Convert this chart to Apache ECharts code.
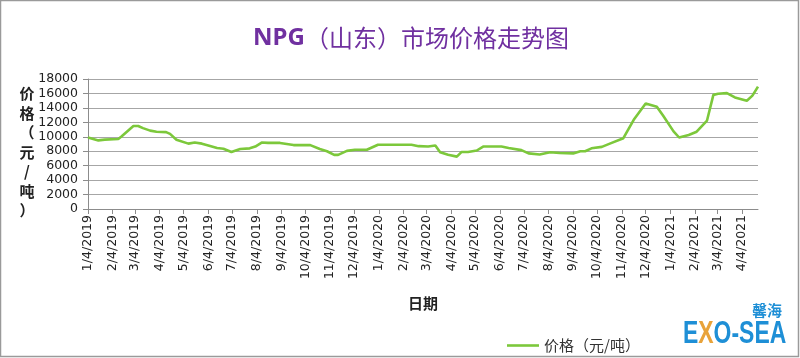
<!DOCTYPE html>
<html><head><meta charset="utf-8">
<script src="https://cdn.jsdelivr.net/npm/echarts@6/dist/echarts.min.js"></script>
<style>html,body{margin:0;padding:0;background:#fff}#c{width:800px;height:358px}</style>
</head><body><div id="c"></div>
<script>
const titleText = 'NPG（山东）市场价格走势图';
const seriesName = '价格（元/吨）';
const yAxisTitle = '价格（元/吨）';
const xAxisTitle = '日期';

const dates = [
 '2019-01-04','2019-01-17','2019-01-25','2019-02-11','2019-02-15','2019-03-02','2019-03-08','2019-03-14',
 '2019-03-23','2019-03-31','2019-04-12','2019-04-17','2019-04-25','2019-05-10','2019-05-18','2019-05-27',
 '2019-06-04','2019-06-15','2019-06-23','2019-07-03','2019-07-14','2019-07-26','2019-08-02','2019-08-10',
 '2019-08-18','2019-09-02','2019-09-19','2019-10-10','2019-10-22','2019-10-31','2019-11-09','2019-11-14',
 '2019-11-25','2019-12-05','2019-12-20','2020-01-03','2020-02-14','2020-02-23','2020-03-06','2020-03-15',
 '2020-03-21','2020-03-31','2020-04-11','2020-04-17','2020-04-25','2020-05-06','2020-05-14','2020-06-06',
 '2020-06-15','2020-07-01','2020-07-10','2020-07-24','2020-08-06','2020-08-18','2020-09-04','2020-09-13',
 '2020-09-19','2020-09-27','2020-10-10','2020-10-20','2020-11-06','2020-11-19','2020-12-04','2020-12-18',
 '2020-12-26','2021-01-08','2021-01-15','2021-01-27','2021-02-06','2021-02-19','2021-02-27','2021-03-05',
 '2021-03-16','2021-03-26','2021-04-10','2021-04-17','2021-04-24'
];
const prices = [
 9900,9500,9600,9700,10050,11500,11500,11200,
 10850,10700,10650,10400,9600,9050,9200,9050,
 8800,8450,8350,7900,8300,8400,8650,9200,
 9150,9150,8850,8850,8300,8000,7500,7500,
 8050,8200,8200,8900,8900,8700,8650,8800,
 7850,7500,7250,7900,7900,8100,8650,8650,
 8450,8150,7700,7550,7850,7750,7700,8000,
 8000,8400,8600,9050,9800,12350,14600,14150,
 12900,10750,9900,10250,10700,12250,15800,15950,
 16050,15450,15000,15700,16950
];
const tickDates = [
 '2019-01-04','2019-02-04','2019-03-04','2019-04-04','2019-05-04','2019-06-04','2019-07-04',
 '2019-08-04','2019-09-04','2019-10-04','2019-11-04','2019-12-04','2020-01-04','2020-02-04',
 '2020-03-04','2020-04-04','2020-05-04','2020-06-04','2020-07-04','2020-08-04','2020-09-04',
 '2020-10-04','2020-11-04','2020-12-04','2021-01-04','2021-02-04','2021-03-04','2021-04-04'
];
const yMin = 0, yMax = 18000, yStep = 2000;

function toMs(s){ const p = s.split('-').map(Number); return Date.UTC(p[0], p[1]-1, p[2]); }
function fmt(v){ const d = new Date(v); return (d.getUTCMonth()+1)+'/'+d.getUTCDate()+'/'+d.getUTCFullYear(); }

const tickMs = tickDates.map(toMs);
const seriesData = dates.map((d,i)=>[toMs(d), prices[i]]);

const chart = echarts.init(document.getElementById('c'), null, {renderer:'canvas'});
chart.setOption({
  backgroundColor:'#fff',
  animation:false,
  grid:{left:88, right:42, top:79, bottom:149, containLabel:false},
  xAxis:{
    type:'value',
    min: toMs(dates[0]), max: toMs(dates[dates.length-1]),
    axisLine:{show:true, lineStyle:{color:'#8c8c8c', width:1}},
    axisTick:{show:true, customValues: tickMs, length:5, lineStyle:{color:'#8c8c8c'}},
    axisLabel:{customValues: tickMs, rotate:90, formatter: fmt, margin:6,
      fontFamily:'DejaVu Sans', fontSize:12.5, color:'#222'},
    splitLine:{show:false}
  },
  yAxis:{
    type:'value', min:yMin, max:yMax, interval:yStep,
    axisLine:{show:true, lineStyle:{color:'#8c8c8c', width:1}},
    axisTick:{show:true, length:5, lineStyle:{color:'#8c8c8c'}},
    axisLabel:{margin:10, formatter: v => String(v), fontFamily:'DejaVu Sans', fontSize:12.5, color:'#222'},
    splitLine:{show:true, lineStyle:{color:'#a6a6a6', width:1}}
  },
  legend:{
    left:502, top:333, itemWidth:32, itemHeight:2.6, itemGap:6, icon:'rect',
    textStyle:{fontFamily:'Noto Sans CJK SC', fontSize:15, color:'#333'},
    data:[seriesName]
  },
  series:[{
    name:seriesName, type:'line', symbol:'none', data:seriesData,
    lineStyle:{color:'#7cc83b', width:2.6}, itemStyle:{color:'#7cc83b'}
  }],
  graphic:[
    {type:'rect', shape:{x:0.5,y:0.5,width:798,height:356}, style:{fill:null, stroke:'#9a9a9a', lineWidth:1.5}, silent:true},
    {type:'text', x:411, y:38, style:{
      text:'{b|NPG}{n|（山东）市场价格走势图}', align:'center', verticalAlign:'middle',
      rich:{b:{fontFamily:'Noto Sans', fontWeight:'bold', fontSize:24, fill:'#7030a0'},
            n:{fontFamily:'Noto Sans CJK SC', fontSize:24, fill:'#7030a0'}}}},
    {type:'text', x:27, y:152, style:{
      text: yAxisTitle.split('').join('\n'), align:'center', verticalAlign:'middle',
      lineHeight:19.5, fontFamily:'Noto Sans CJK SC', fontWeight:'bold', fontSize:15, fill:'#222'}},
    {type:'text', x:423, y:303, style:{
      text: xAxisTitle, align:'center', verticalAlign:'middle',
      fontFamily:'Noto Sans CJK SC', fontWeight:'bold', fontSize:15, fill:'#222'}},
    {type:'text', x:767, y:310, style:{
      text:'馨海', align:'center', verticalAlign:'middle',
      fontFamily:'Noto Sans CJK SC', fontWeight:'bold', fontSize:15, fill:'#1e8fd6'}},
    {type:'text', x:683, y:334, scaleX:0.74, style:{
      text:'{e|E}{x|X}{e|O-SEA}', align:'left', verticalAlign:'middle',
      rich:{e:{fontFamily:'Liberation Sans', fontWeight:'bold', fontSize:31, fill:'#1e8fd6'},
            x:{fontFamily:'Liberation Sans', fontWeight:'bold', fontSize:31, fill:'#e8a33a'}}}}
  ]
});
</script></body></html>
